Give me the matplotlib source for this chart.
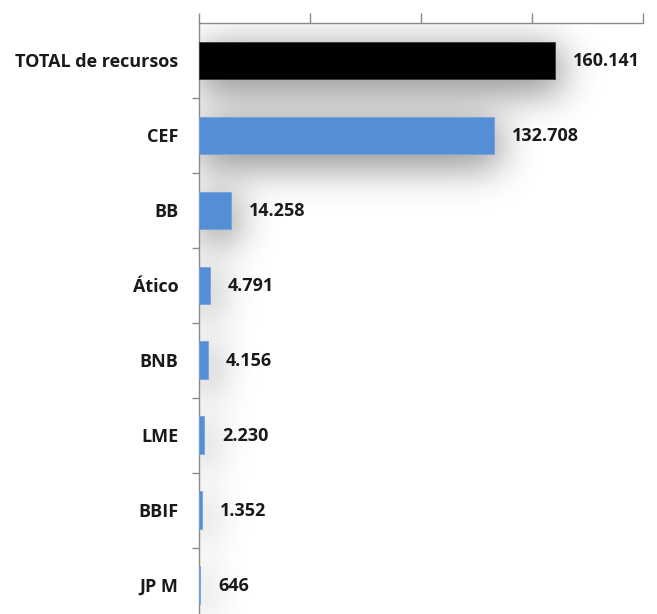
import matplotlib
matplotlib.use("Agg")
import numpy as np
import matplotlib.pyplot as plt
from matplotlib.ticker import FixedLocator, NullFormatter

categories = ["TOTAL de recursos", "CEF", "BB", "Ático", "BNB", "LME", "BBIF", "JP M"]
values = [160141, 132708, 14258, 4791, 4156, 2230, 1352, 646]
colors = ["#000000"] + ["#558ED5"] * 7
edge_colors = ["#3a3a3a"] + ["#74A3DE"] * 7
xticks = [0, 50000, 100000, 150000, 200000]

W, H = 657, 614
fig = plt.figure(figsize=(W / 100, H / 100), dpi=100)
ax_l, ax_r, ax_t = 199, 643, 23
ax = fig.add_axes([ax_l / W, 0, (ax_r - ax_l) / W, 1 - ax_t / H])

xmax = xticks[-1]
vis_bottom = 7.5 - (622.5 - 614) / 75

ypos = np.arange(len(categories))
bh = 0.5

# soft blurred drop shadow computed on a pixel grid
nx, ny = ax_r - ax_l, H - ax_t
xs = np.linspace(0, xmax, nx)
ys = np.linspace(-0.5, vis_bottom, ny)
px_x = xmax / nx
px_y = (vis_bottom + 0.5) / ny
mask = np.zeros((ny, nx))
offx, offy, spread = 3 * px_x, 9 * px_y, 4
for y, v in zip(ypos, values):
    inx = (xs >= offx - spread * px_x) & (xs <= v + offx + spread * px_x)
    iny = (ys >= y - bh / 2 + offy - spread * px_y) & (ys <= y + bh / 2 + offy + spread * px_y)
    mask[np.ix_(iny, inx)] = 1.0
sigma = 19
k = np.arange(-3 * sigma, 3 * sigma + 1)
g = np.exp(-k**2 / (2 * sigma**2)); g /= g.sum()
pad = 3 * sigma
m = np.pad(mask, pad)
m = np.apply_along_axis(lambda r: np.convolve(r, g, mode="same"), 1, m)
m = np.apply_along_axis(lambda c: np.convolve(c, g, mode="same"), 0, m)
m = m[pad:-pad, pad:-pad]
rgba = np.zeros((ny, nx, 4))
rgba[..., 3] = np.clip(m, 0, 1) * 0.45
ax.imshow(rgba, extent=[0, xmax, vis_bottom, -0.5], aspect="auto",
          interpolation="bilinear", zorder=1)
ax.set_xlim(0, xmax)
ax.set_ylim(vis_bottom, -0.5)

ax.barh(ypos, values, height=bh, color=colors, zorder=3,
        edgecolor=edge_colors, linewidth=0.6)

fs = 13
for y, v in zip(ypos, values):
    txt = f"{v:,}".replace(",", ".")
    ax.annotate(txt, (v, y), xytext=(18, -1), textcoords="offset pixels",
                va="center", ha="left", fontsize=fs, fontweight="bold",
                color="#1a1a1a", family="Open Sans", zorder=4)

ax.set_yticks(ypos)
ax.set_yticklabels(categories, fontsize=fs, fontweight="bold", family="Open Sans", color="#1a1a1a")
ax.tick_params(axis="y", which="major", length=0, pad=15)
ax.yaxis.set_minor_locator(FixedLocator([-0.5 + i for i in range(1, 8)]))
ax.tick_params(axis="y", which="minor", length=5, color="#8a8a8a", width=1)

ax.xaxis.tick_top()
ax.set_xticks(xticks)
ax.xaxis.set_major_formatter(NullFormatter())
ax.tick_params(axis="x", which="major", direction="out", length=7, color="#8a8a8a", width=1)

for s in ["right", "bottom"]:
    ax.spines[s].set_visible(False)
for s in ["top", "left"]:
    ax.spines[s].set_color("#8a8a8a")
    ax.spines[s].set_linewidth(1)

fig.savefig("out.png", dpi=100)
